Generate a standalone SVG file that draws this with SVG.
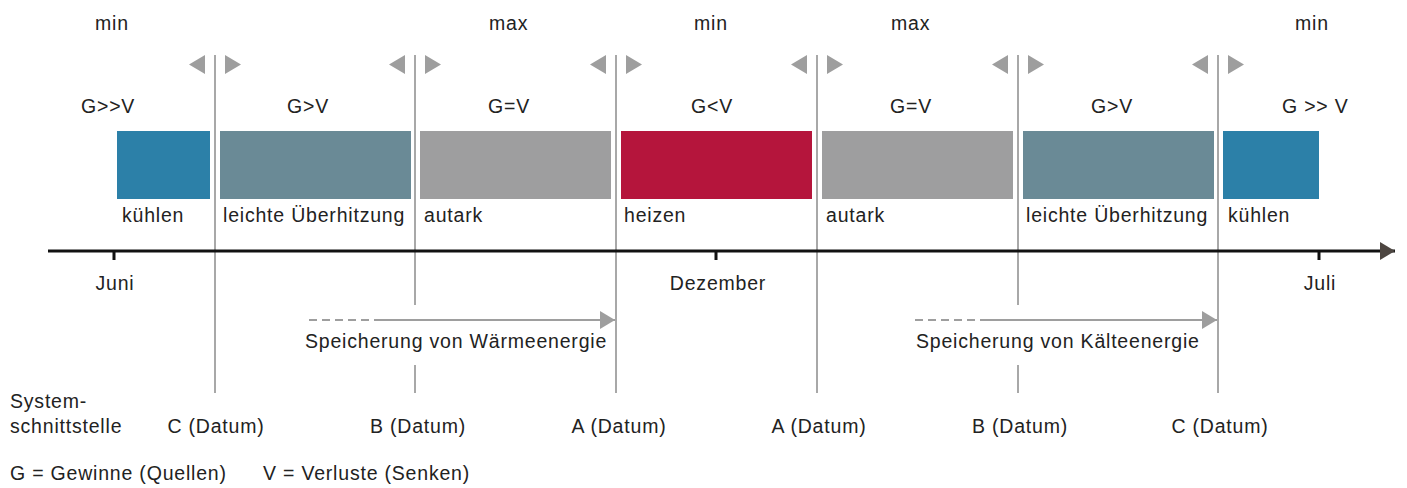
<svg xmlns="http://www.w3.org/2000/svg" width="1407" height="488" viewBox="0 0 1407 488">
  <defs>
    <style>
      text { font-family: "Liberation Sans", Arial, sans-serif; font-size: 19.5px; fill: #222; letter-spacing: 0.8px; }
      .mid { text-anchor: middle; }
      .sep { stroke: #a8a8a8; stroke-width: 2; fill: none; }
      .tri { fill: #9e9e9e; }
      .cool { fill: #2c80a8; }
      .warm { fill: #6a8a96; }
      .auto { fill: #9e9e9f; }
      .heat { fill: #b5153c; }
      .store { stroke: #9e9e9e; stroke-width: 2; fill: none; }
      .dash { stroke-dasharray: 8 5; }
    </style>
    <marker id="storeHead" markerUnits="userSpaceOnUse" markerWidth="16" markerHeight="18" refX="15" refY="9" orient="auto">
      <path d="M0,0 L15,9 L0,18 Z" fill="#9e9e9e"/>
    </marker>
    <marker id="axisHead" markerUnits="userSpaceOnUse" markerWidth="16" markerHeight="18" refX="15" refY="9" orient="auto">
      <path d="M0,0 L15,9 L0,18 Z" fill="#4d4641"/>
    </marker>
  </defs>

  <!-- min / max marks -->
  <g id="extremes">
    <text x="95" y="30">min</text>
    <text x="489" y="30">max</text>
    <text x="694" y="30">min</text>
    <text x="891" y="30">max</text>
    <text x="1295" y="30">min</text>
  </g>

  <!-- system boundaries: vertical lines with direction triangles -->
  <g id="boundaries">
    <line class="sep" x1="215" y1="55" x2="215" y2="393"/>
    <path class="sep" d="M415,55 V305 M415,365 V393"/>
    <line class="sep" x1="616" y1="55" x2="616" y2="393"/>
    <line class="sep" x1="817" y1="55" x2="817" y2="393"/>
    <path class="sep" d="M1018,55 V305 M1018,365 V393"/>
    <line class="sep" x1="1218" y1="55" x2="1218" y2="393"/>
  </g>
  <g id="triangles">
    <path class="tri" d="M189,64.5 L205,55 L205,74 Z M225,55 L225,74 L241,64.5 Z"/>
    <path class="tri" d="M389,64.5 L405,55 L405,74 Z M425,55 L425,74 L441,64.5 Z"/>
    <path class="tri" d="M590,64.5 L606,55 L606,74 Z M626,55 L626,74 L642,64.5 Z"/>
    <path class="tri" d="M791,64.5 L807,55 L807,74 Z M827,55 L827,74 L843,64.5 Z"/>
    <path class="tri" d="M992,64.5 L1008,55 L1008,74 Z M1028,55 L1028,74 L1044,64.5 Z"/>
    <path class="tri" d="M1192,64.5 L1208,55 L1208,74 Z M1228,55 L1228,74 L1244,64.5 Z"/>
  </g>

  <!-- phases -->
  <g id="phase-kuehlen-1">
    <text x="81" y="113">G&gt;&gt;V</text>
    <rect class="cool" x="117" y="131" width="93" height="68"/>
    <text x="122" y="222">kühlen</text>
  </g>
  <g id="phase-ueberhitzung-1">
    <text x="287" y="113">G&gt;V</text>
    <rect class="warm" x="220" y="131" width="191" height="68"/>
    <text x="223" y="222">leichte Überhitzung</text>
  </g>
  <g id="phase-autark-1">
    <text x="488" y="113">G=V</text>
    <rect class="auto" x="420" y="131" width="191" height="68"/>
    <text x="424" y="222">autark</text>
  </g>
  <g id="phase-heizen">
    <text x="691" y="113">G&lt;V</text>
    <rect class="heat" x="621" y="131" width="191" height="68"/>
    <text x="624" y="222">heizen</text>
  </g>
  <g id="phase-autark-2">
    <text x="890" y="113">G=V</text>
    <rect class="auto" x="822" y="131" width="191" height="68"/>
    <text x="826" y="222">autark</text>
  </g>
  <g id="phase-ueberhitzung-2">
    <text x="1091" y="113">G&gt;V</text>
    <rect class="warm" x="1023" y="131" width="191" height="68"/>
    <text x="1026" y="222">leichte Überhitzung</text>
  </g>
  <g id="phase-kuehlen-2">
    <text x="1282" y="113">G &gt;&gt; V</text>
    <rect class="cool" x="1223" y="131" width="96" height="68"/>
    <text x="1228" y="222">kühlen</text>
  </g>

  <!-- time axis -->
  <g id="time-axis">
    <line x1="48" y1="251" x2="1395" y2="251" stroke="#111" stroke-width="3" marker-end="url(#axisHead)"/>
    <path d="M114,251 V260 M716,251 V260 M1319,251 V260" stroke="#111" stroke-width="3"/>
    <text class="mid" x="115" y="290">Juni</text>
    <text class="mid" x="718" y="290">Dezember</text>
    <text class="mid" x="1320" y="290">Juli</text>
  </g>

  <!-- storage arrows -->
  <g id="connectors">
    <line class="store dash" x1="309" y1="320" x2="380" y2="320"/>
    <line class="store" x1="380" y1="320" x2="615" y2="320" marker-end="url(#storeHead)"/>
    <line class="store dash" x1="915" y1="320" x2="982" y2="320"/>
    <line class="store" x1="982" y1="320" x2="1217" y2="320" marker-end="url(#storeHead)"/>
  </g>
  <g id="storage-labels">
    <text x="305" y="348">Speicherung von Wärmeenergie</text>
    <text x="916" y="348">Speicherung von Kälteenergie</text>
  </g>

  <!-- boundary labels -->
  <g id="boundary-labels">
    <text x="10" y="408">System-</text>
    <text x="10" y="433">schnittstelle</text>
    <text class="mid" x="216" y="433">C (Datum)</text>
    <text class="mid" x="418" y="433">B (Datum)</text>
    <text class="mid" x="619" y="433">A (Datum)</text>
    <text class="mid" x="819" y="433">A (Datum)</text>
    <text class="mid" x="1020" y="433">B (Datum)</text>
    <text class="mid" x="1220" y="433">C (Datum)</text>
  </g>

  <!-- legend -->
  <g id="legend">
    <text x="10" y="480">G = Gewinne (Quellen)</text>
    <text x="263" y="480">V = Verluste (Senken)</text>
  </g>
</svg>
